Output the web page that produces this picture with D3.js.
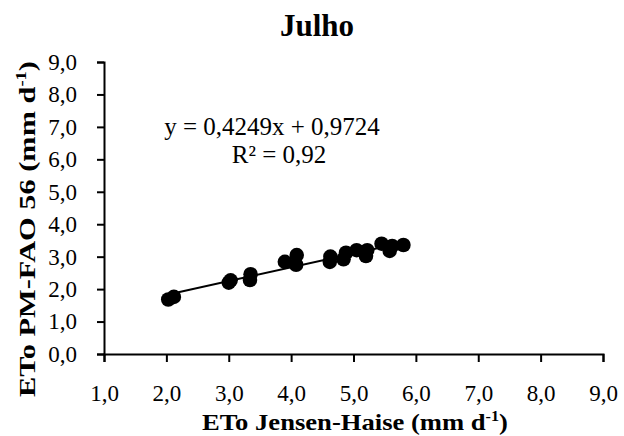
<!DOCTYPE html>
<html>
<head>
<meta charset="utf-8">
<script src="https://cdn.jsdelivr.net/npm/d3@7"></script>
<style>
	body { margin: 0; background: #fff; }
</style>
</head>
<body>
<div id="chart"></div>
<script>
// ETo Jensen-Haise (x) vs ETo PM-FAO 56 (y), July
var xValues = [ 2.03, 2.12, 3.00, 3.03, 3.34, 3.35, 3.90, 4.08, 4.09, 4.62, 4.63, 4.84, 4.88, 5.05, 5.20, 5.22, 5.45, 5.58, 5.62, 5.80 ];
var yValues = [ 1.68, 1.76, 2.20, 2.27, 2.28, 2.46, 2.84, 2.75, 3.05, 2.84, 3.00, 2.92, 3.12, 3.20, 3.02, 3.20, 3.40, 3.18, 3.33, 3.36 ];
var xTicks = [ 1, 2, 3, 4, 5, 6, 7, 8, 9 ];
var yTicks = [ 0, 1, 2, 3, 4, 5, 6, 7, 8, 9 ];
var slope = 0.4249;
var intercept = 0.9724;
var equationLabel = "y = 0,4249x + 0,9724";
var r2Label = "R² = 0,92";

var serif = "'Liberation Serif', 'DejaVu Serif', 'Times New Roman', Times, serif";
var width = 624, height = 436;
var margin = { top: 62, right: 21, bottom: 82, left: 104 };

var svg = d3.select( "#chart" ).append( "svg" )
	.attr( "width", width )
	.attr( "height", height )
	.attr( "font-family", serif );

var scale = {
	x: d3.scaleLinear().domain( [ 1, 9 ] ).range( [ margin.left, width - margin.right ] ),
	y: d3.scaleLinear().domain( [ 0, 9 ] ).range( [ height - margin.bottom, margin.top ] )
};

var fmt = function( v ) { return v.toFixed( 1 ).replace( ".", "," ); };

var xAxis = svg.append( "g" )
	.attr( "transform", "translate(0," + scale.y( 0 ) + ")" )
	.call( d3.axisBottom( scale.x ).tickValues( xTicks ).tickFormat( fmt ).tickSize( 8 ).tickSizeOuter( 8 ).tickPadding( 23 ) );

var yAxis = svg.append( "g" )
	.attr( "transform", "translate(" + scale.x( 1 ) + ",0)" )
	.call( d3.axisLeft( scale.y ).tickValues( yTicks ).tickFormat( fmt ).tickSize( 7 ).tickSizeOuter( 7 ).tickPadding( 20 ) );

[ xAxis, yAxis ].forEach( function( ax ) {
	ax.attr( "font-family", serif ).attr( "font-size", 23 );
	ax.selectAll( "path, line" ).attr( "stroke", "#000" ).attr( "stroke-width", 2 );
	ax.selectAll( "text" ).attr( "fill", "#000" );
} );

// trend line
var xMin = d3.min( xValues ), xMax = d3.max( xValues );
svg.append( "line" )
	.attr( "x1", scale.x( xMin ) )
	.attr( "y1", scale.y( slope * xMin + intercept ) )
	.attr( "x2", scale.x( xMax ) )
	.attr( "y2", scale.y( slope * xMax + intercept ) )
	.attr( "stroke", "#000" )
	.attr( "stroke-width", 2 );

// points
svg.append( "g" )
	.selectAll( "circle" )
	.data( xValues )
	.enter()
	.append( "circle" )
	.attr( "cx", function( d ) { return scale.x( d ); } )
	.attr( "cy", function( d, i ) { return scale.y( yValues[ i ] ); } )
	.attr( "r", 7.3 )
	.attr( "fill", "#000" );

// title
svg.append( "text" )
	.attr( "x", 317 )
	.attr( "y", 36 )
	.attr( "text-anchor", "middle" )
	.attr( "font-size", 31 )
	.attr( "font-weight", "bold" )
	.text( "Julho" );

// equation
svg.append( "text" )
	.attr( "x", 272 )
	.attr( "y", 135 )
	.attr( "text-anchor", "middle" )
	.attr( "font-size", 25 )
	.text( equationLabel );

svg.append( "text" )
	.attr( "x", 279 )
	.attr( "y", 163 )
	.attr( "text-anchor", "middle" )
	.attr( "font-size", 25 )
	.text( r2Label );

// axis titles (stretched to the reference length)
var axisTitle = function( text, len )
{
	text.attr( "text-anchor", "middle" )
		.attr( "font-size", 23 )
		.attr( "font-weight", "bold" )
		.attr( "textLength", len )
		.attr( "lengthAdjust", "spacingAndGlyphs" );
	text.append( "tspan" ).text( text.datum() );
	text.append( "tspan" ).attr( "dy", -9 ).attr( "font-size", 14 ).text( "-1" );
	text.append( "tspan" ).attr( "dy", 9 ).text( ")" );
};

svg.append( "text" )
	.datum( "ETo Jensen-Haise (mm d" )
	.attr( "x", 355 )
	.attr( "y", 430 )
	.call( axisTitle, 306 );

svg.append( "text" )
	.datum( "ETo PM-FAO 56 (mm d" )
	.attr( "transform", "translate(35,229) rotate(-90)" )
	.call( axisTitle, 336 );
</script>
</body>
</html>
